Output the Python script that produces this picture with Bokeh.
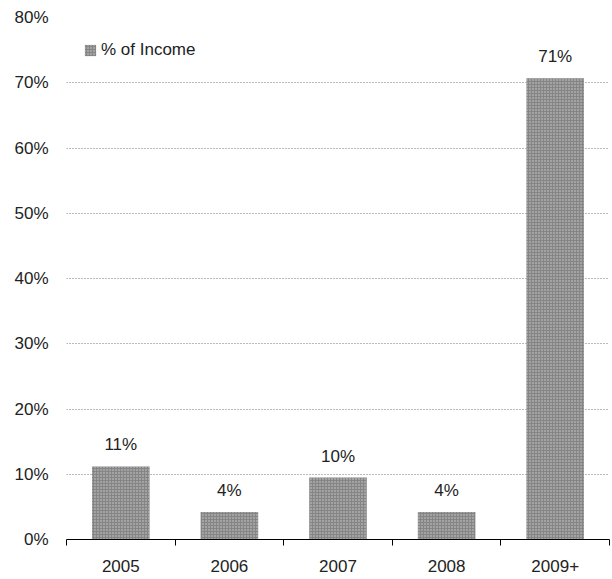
from bokeh.plotting import figure
from bokeh.models import Range1d, FixedTicker, ColumnDataSource, Legend, LegendItem, NumeralTickFormatter
from bokeh.core.properties import value
from bokeh.embed import file_html
from bokeh.resources import INLINE

# ---- data ----
years = ["2005", "2006", "2007", "2008", "2009+"]
pct_income = [11.2, 4.2, 9.5, 4.2, 70.7]
bar_labels = ["11%", "4%", "10%", "4%", "71%"]
y_ticks = [0, 10, 20, 30, 40, 50, 60, 70, 80]
series_name = "% of Income"

FONT = "Liberation Sans"
centers = [i + 0.5 for i in range(len(years))]
bounds = list(range(len(years) + 1))

src = ColumnDataSource(dict(x=centers, top=pct_income, label=bar_labels, year=years))

p = figure(width=612, height=579, output_backend="svg", toolbar_location=None,
           x_range=Range1d(0, len(years)), y_range=Range1d(0, 80))
p.min_border_left = 66
p.min_border_right = 3
p.min_border_top = 17
p.min_border_bottom = 40
p.outline_line_color = None
p.background_fill_color = "white"
p.border_fill_color = "white"

# grid
p.xgrid.grid_line_color = None
p.ygrid.ticker = FixedTicker(ticks=y_ticks[1:])
p.ygrid.grid_line_color = "#777777"
p.ygrid.grid_line_dash = "1 2"
p.ygrid.grid_line_width = 1

bars = p.vbar(x="x", top="top", width=0.53, source=src,
              fill_color="#858585", line_color=None,
              hatch_pattern="dot", hatch_color="#d0d0d0", hatch_scale=3, hatch_weight=1)

p.text(x="x", y="top", text="label", source=src, text_align="center",
       text_baseline="bottom", y_offset=-12, text_font=value(FONT),
       text_font_size="17px", text_color="#222222")

# x axis
xa = p.xaxis[0]
xa.ticker = FixedTicker(ticks=centers, minor_ticks=bounds)
xa.major_label_overrides = {c: y for c, y in zip(centers, years)}
xa.major_tick_line_color = None
xa.major_tick_out = 0
xa.major_tick_in = 0
xa.minor_tick_out = 6
xa.minor_tick_in = 0
xa.minor_tick_line_color = "black"
xa.axis_line_color = "black"
xa.major_label_standoff = 14
xa.major_label_text_font = FONT
xa.major_label_text_font_size = "17px"
xa.major_label_text_color = "#222222"

# y axis
ya = p.yaxis[0]
ya.ticker = FixedTicker(ticks=y_ticks)
ya.formatter = NumeralTickFormatter(format="0%")
ya.major_label_overrides = {t: f"{t}%" for t in y_ticks}
ya.axis_line_color = None
ya.major_tick_line_color = None
ya.minor_tick_line_color = None
ya.major_tick_out = 0
ya.major_tick_in = 0
ya.major_label_standoff = 18
ya.major_label_text_font = FONT
ya.major_label_text_font_size = "17px"
ya.major_label_text_color = "#222222"

legend = Legend(items=[LegendItem(label=series_name, renderers=[bars])],
                location=(17, 479), orientation="vertical")
legend.border_line_color = None
legend.background_fill_alpha = 0
legend.padding = 0
legend.margin = 0
legend.glyph_width = 14
legend.glyph_height = 14
legend.label_standoff = 4
legend.label_text_font = FONT
legend.label_text_font_size = "17px"
legend.label_text_color = "#222222"
p.add_layout(legend)

open("out.html", "w").write(file_html(p, INLINE))
